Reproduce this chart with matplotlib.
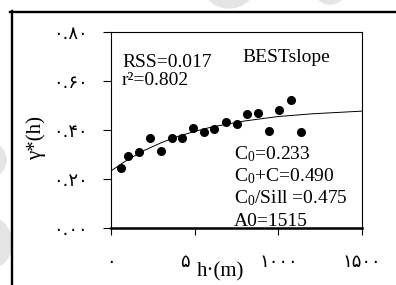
# imports
import matplotlib.pyplot as plt
from matplotlib.lines import Line2D
from matplotlib.patches import Circle

# serif text, with Times-like maths for the subscripts
plt.rcParams['font.family'] = ['Liberation Serif', 'DejaVu Sans']
plt.rcParams['mathtext.fontset'] = 'custom'
plt.rcParams['mathtext.rm'] = 'Liberation Serif'
plt.rcParams['mathtext.it'] = 'Liberation Serif:italic'

lag_m = [60, 100, 169, 233, 297, 363, 426, 488, 556, 617,
         685, 751, 815, 880, 944, 1006, 1074, 1135]
gamma = [0.246, 0.295, 0.309, 0.369, 0.316, 0.366, 0.369, 0.409, 0.391, 0.403,
         0.434, 0.423, 0.464, 0.468, 0.397, 0.482, 0.522, 0.391]

# fitted model line
model_lag = [0, 100, 200, 300, 400, 500, 600, 800, 1000, 1200, 1500]
model_gamma = [0.233, 0.279, 0.317, 0.348, 0.374, 0.394, 0.412, 0.437, 0.455, 0.466, 0.477]

# ticks and their persian labels
x_ticks = [0, 500, 1000, 1500]
x_labels = ['۰', '۵۰۰', '۱۰۰۰', '۱۵۰۰']
y_ticks = [0.0, 0.2, 0.4, 0.6, 0.8]
y_labels = ['۰.۰۰', '۰.۲۰', '۰.۴۰', '۰.۶۰', '۰.۸۰']

# model statistics written inside the plot
stats_top = ['RSS=0.017', 'r²=0.802']
stats_bottom = [r'C$_{0}$=0.233', r'C$_{0}$+C=0.490', r'C$_{0}$/Sill =0.475', 'A0=1515']
model_name = 'BESTslope'

fig = plt.figure(figsize=(3.96, 2.85), dpi=100)
px = fig.dpi_scale_trans  # inches, so pixels / 100

# faint grey watermark blobs
for cx, cy, r in [(229, -20, 28), (330, -12, 16), (-15, 243, 27), (-12, 160, 18)]:
    fig.patches.append(Circle((cx / 100, (285 - cy) / 100), r / 100,
                              transform=px, color='#e4e4e4', zorder=0))

# outer frame lines (top and left)
fig.lines.append(Line2D([0.10, 3.96], [2.733, 2.733], transform=px, color='black', lw=1.7))
fig.lines.append(Line2D([0.122, 0.122], [0, 2.745], transform=px, color='black', lw=1.7))

ax = fig.add_axes([111 / 396, 57 / 285, 251 / 396, 196 / 285])

# points and fitted line
ax.plot(lag_m, gamma, 'o', color='black', markersize=5.5, zorder=4)
ax.plot(model_lag, model_gamma, color='black', lw=0.7, zorder=3)

ax.set_xlim(0, 1500)
ax.set_ylim(0, 0.8)
ax.set_xticks(x_ticks)
ax.set_xticklabels(x_labels, family=['DejaVu Sans'], fontsize=13)
ax.set_yticks(y_ticks)
ax.set_yticklabels(y_labels, family=['DejaVu Sans'], fontsize=13)
ax.tick_params(axis='y', length=6, width=0.8, pad=11)
ax.tick_params(axis='x', length=5, width=0.8, pad=13)

for side in ['left', 'right', 'top']:
    ax.spines[side].set_linewidth(0.8)
ax.spines['bottom'].set_linewidth(1.8)

# axis labels (the white box hides the zeros of the 500 tick, as in the original)
ax.set_xlabel('h·(m)', fontsize=15,
              bbox=dict(facecolor='white', edgecolor='none', pad=2.5))
ax.xaxis.set_label_coords(0.435, -0.175)
ax.xaxis.label.set_va('top')
ax.set_ylabel('γ*(h)', fontsize=15)
ax.yaxis.set_label_coords(-0.26, 0.46)

# statistics text
for i, s in enumerate(stats_top):
    ax.text(0.044, 0.82 - i * 0.092, s, transform=ax.transAxes, fontsize=14, va='baseline')
ax.text(0.522, 0.849, model_name, transform=ax.transAxes, fontsize=14, va='baseline')
for i, s in enumerate(stats_bottom):
    ax.text(0.491, 0.352 - i * 0.114, s, transform=ax.transAxes, fontsize=14,
            va='baseline', zorder=2)

fig.savefig('out.png', dpi=100)
